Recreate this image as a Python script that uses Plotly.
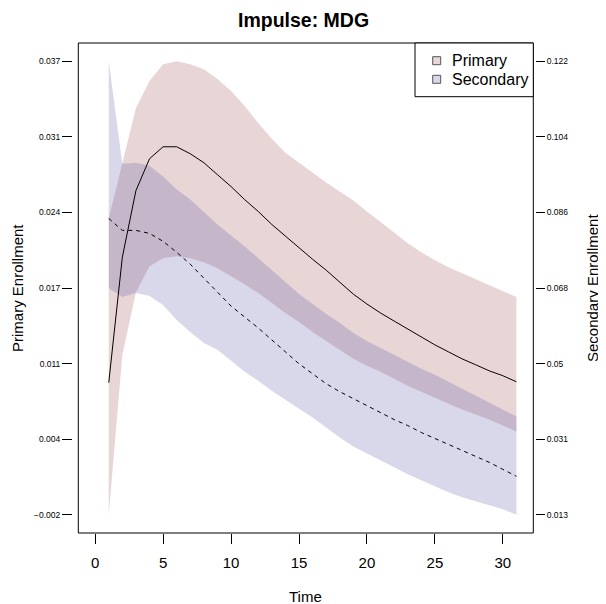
import plotly.graph_objects as go

# ---------------- data ----------------
time = list(range(1, 32))

primary_upper = [0.02348, 0.02818, 0.03298, 0.03529, 0.03674, 0.03700, 0.03674, 0.03631,
                 0.03546, 0.03443, 0.03315, 0.03169, 0.03032, 0.02913, 0.02827, 0.02741,
                 0.02656, 0.02579, 0.02502, 0.02408, 0.02322, 0.02228, 0.02134, 0.02057,
                 0.01988, 0.01928, 0.01877, 0.01826, 0.01774, 0.01723, 0.01672]
primary_lower = [-0.00200, 0.01175, 0.01714, 0.01937, 0.02005, 0.02022, 0.02005, 0.01971,
                 0.01920, 0.01851, 0.01783, 0.01706, 0.01620, 0.01535, 0.01458, 0.01372,
                 0.01295, 0.01218, 0.01141, 0.01081, 0.01030, 0.00970, 0.00910, 0.00859,
                 0.00807, 0.00756, 0.00705, 0.00662, 0.00619, 0.00568, 0.00516]
primary_median = [0.00936, 0.02014, 0.02587, 0.02861, 0.02964, 0.02964, 0.02904, 0.02827,
                  0.02724, 0.02622, 0.02510, 0.02408, 0.02296, 0.02194, 0.02091, 0.01997,
                  0.01903, 0.01800, 0.01697, 0.01612, 0.01535, 0.01466, 0.01398, 0.01329,
                  0.01261, 0.01201, 0.01141, 0.01090, 0.01038, 0.00996, 0.00944]

secondary_upper = [0.12200, 0.09737, 0.09761, 0.09689, 0.09426, 0.09115, 0.08876, 0.08565,
                   0.08278, 0.08014, 0.07751, 0.07464, 0.07177, 0.06890, 0.06603, 0.06364,
                   0.06125, 0.05909, 0.05670, 0.05479, 0.05311, 0.05144, 0.04977, 0.04809,
                   0.04666, 0.04498, 0.04331, 0.04163, 0.03996, 0.03828, 0.03661]
secondary_lower = [0.06747, 0.06531, 0.06627, 0.06555, 0.06340, 0.05981, 0.05694, 0.05431,
                   0.05264, 0.05000, 0.04737, 0.04522, 0.04283, 0.04068, 0.03852, 0.03637,
                   0.03398, 0.03159, 0.02943, 0.02776, 0.02608, 0.02441, 0.02274, 0.02130,
                   0.01986, 0.01843, 0.01723, 0.01628, 0.01532, 0.01436, 0.01300]
secondary_median = [0.08421, 0.08134, 0.08134, 0.08062, 0.07871, 0.07608, 0.07321, 0.06986,
                    0.06651, 0.06316, 0.06053, 0.05790, 0.05503, 0.05216, 0.04929, 0.04689,
                    0.04450, 0.04259, 0.04091, 0.03924, 0.03757, 0.03589, 0.03446, 0.03278,
                    0.03135, 0.02991, 0.02848, 0.02704, 0.02561, 0.02393, 0.02226]

x_ticks = [0, 5, 10, 15, 20, 25, 30]
x_limits = [0, 31]
left_tick_vals = [-0.002, 0.0045, 0.011, 0.0175, 0.024, 0.0305, 0.037]
left_tick_text = ["\u22120.002", "0.004", "0.011", "0.017", "0.024", "0.031", "0.037"]
right_tick_vals = [0.013, 0.03117, 0.04933, 0.0675, 0.08567, 0.10383, 0.122]
right_tick_text = ["0.013", "0.031", "0.05", "0.068", "0.086", "0.104", "0.122"]

series_names = ["Primary", "Secondary"]
title_text = "Impulse: MDG"
x_title = "Time"
left_title = "Primary Enrollment"
right_title = "Secondary Enrollment"

# ---------------- style ----------------
PINK = "rgba(140,50,50,0.2)"
LAV = "rgba(60,60,150,0.2)"
FONT = "Liberation Sans, Arial, Helvetica, sans-serif"

# The page body has an 8px margin, so the figure is drawn 8px in from the
# window's top-left corner.  All layout positions below are given in window
# pixels and converted.
OFF = 8
WIN_W, WIN_H = 606, 604
W, H = WIN_W - OFF, WIN_H - OFF
BOX_L, BOX_R, BOX_T, BOX_B = 78.3, 533.3, 43, 533
ML, MR = 50, 50
MT = BOX_T - OFF
MB = H - (BOX_B - OFF)
PW = W - ML - MR
PH = H - MT - MB


def px(xw):
    return (xw - OFF - ML) / PW


def py(yw):
    return (H - MB - (yw - OFF)) / PH


def ext(lo, hi):
    d = (hi - lo) * 0.04
    return [lo - d, hi + d]


left_range = ext(min(primary_lower), max(primary_upper))
right_range = ext(min(secondary_lower), max(secondary_upper))
x_range = ext(*x_limits)

fig = go.Figure()
fig.add_trace(go.Scatter(
    x=time + time[::-1], y=primary_upper + primary_lower[::-1],
    fill="toself", fillcolor=PINK, mode="lines", line=dict(width=0),
    hoverinfo="skip", showlegend=False, yaxis="y"))
fig.add_trace(go.Scatter(
    x=time + time[::-1], y=secondary_upper + secondary_lower[::-1],
    fill="toself", fillcolor=LAV, mode="lines", line=dict(width=0),
    hoverinfo="skip", showlegend=False, yaxis="y2"))
fig.add_trace(go.Scatter(
    x=time, y=secondary_median, mode="lines",
    line=dict(color="black", width=1, dash="4px,4px"),
    showlegend=False, yaxis="y2"))
fig.add_trace(go.Scatter(
    x=time, y=primary_median, mode="lines",
    line=dict(color="black", width=1),
    showlegend=False, yaxis="y3"))

axis_common = dict(showgrid=False, zeroline=False, showline=False,
                   ticks="outside", tickcolor="black", tickwidth=1)

fig.update_layout(
    width=W, height=H,
    margin=dict(l=ML, r=MR, t=MT, b=MB, autoexpand=False),
    paper_bgcolor="white", plot_bgcolor="white",
    font=dict(family=FONT, color="black"),
    showlegend=False,
    xaxis=dict(domain=[px(BOX_L), px(BOX_R)], range=x_range, tickvals=x_ticks,
               ticklen=10, tickfont=dict(size=15), anchor="y", automargin=False,
               ticklabelstandoff=6, **axis_common),
    yaxis=dict(range=left_range, tickvals=left_tick_vals, ticktext=left_tick_text,
               ticklen=10, tickfont=dict(size=8.5), anchor="free", position=px(72),
               side="left", automargin=False, **axis_common),
    yaxis2=dict(range=right_range, tickvals=right_tick_vals, ticktext=right_tick_text,
                ticklen=9, tickfont=dict(size=8.5), anchor="free", position=px(535),
                side="right", overlaying="y", automargin=False, **axis_common),
    yaxis3=dict(range=left_range, overlaying="y", visible=False, anchor="x"),
)

shapes = [
    dict(type="rect", xref="x domain", yref="y domain", x0=0, x1=1, y0=0, y1=1,
         line=dict(color="black", width=1), layer="above"),
    dict(type="rect", xref="paper", yref="paper", x0=px(415), x1=px(BOX_R),
         y0=py(96.7), y1=py(BOX_T), line=dict(color="black", width=1),
         fillcolor="white", layer="above"),
]
legend_fills = [PINK, LAV]
legend_rows = [60.7, 79.3]
annotations = []
for name, fc, yr in zip(series_names, legend_fills, legend_rows):
    shapes.append(dict(type="rect", xref="paper", yref="paper",
                       x0=px(432.7), x1=px(440.7), y0=py(yr + 4), y1=py(yr - 4),
                       line=dict(color="#555555", width=1), fillcolor=fc, layer="above"))
    annotations.append(dict(text=name, xref="paper", yref="paper", x=px(450), y=py(yr),
                            xanchor="left", yanchor="middle", showarrow=False,
                            font=dict(size=16)))

annotations += [
    dict(text=title_text, xref="paper", yref="paper", x=px(303), y=py(OFF),
         xanchor="center", yanchor="top", showarrow=False, borderpad=0,
         font=dict(size=19.5, weight="bold")),
    dict(text=x_title, xref="paper", yref="paper", x=px(305.5), y=py(596),
         xanchor="center", yanchor="middle", showarrow=False, font=dict(size=15)),
    dict(text=left_title, xref="paper", yref="paper", x=px(17), y=py(288),
         xanchor="center", yanchor="middle", showarrow=False, textangle=-90,
         font=dict(size=15)),
    dict(text=right_title, xref="paper", yref="paper", x=px(592), y=py(288),
         xanchor="center", yanchor="middle", showarrow=False, textangle=-90,
         font=dict(size=15)),
]
fig.update_layout(shapes=shapes, annotations=annotations)

fig.write_html("out.html")
